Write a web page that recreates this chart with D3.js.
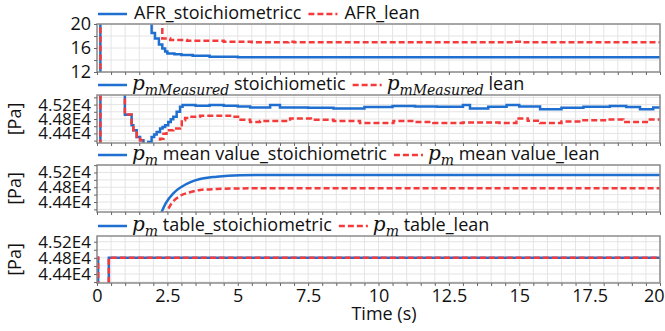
<!DOCTYPE html>
<html><head><meta charset="utf-8">
<script src="https://cdn.jsdelivr.net/npm/d3@7"></script>
<style>
body{margin:0;background:#fff}
text{font-family:'Open Sans',sans-serif}
</style>
</head><body>
<svg id="c" width="665" height="331"></svg>
<script>
// ---------------- data ----------------
const timeTicks = [0, 2.5, 5, 7.5, 10, 12.5, 15, 17.5, 20];
const timeTickLabels = ["0", "2.5", "5", "7.5", "10", "12.5", "15", "17.5", "20"];
const afrTicks = [12, 16, 20];
const paTicks = [44400, 44800, 45200];

// AFR (stepped)  [time s, AFR]
const afrStoich = [[-0.1, 0], [0.12, 25], [1.94, 18.5], [2.06, 17.6], [2.2, 16.6], [2.32, 15.9], [2.42, 15.4],
  [2.5, 15.1], [2.75, 14.95], [3.0, 14.85], [3.4, 14.7], [4.0, 14.55], [5.0, 14.45], [20, 14.45]];
const afrLean = [[-0.1, 0], [0.12, 25], [2.32, 17.6], [2.6, 17.35], [3.2, 17.2], [4.5, 17.05], [5.5, 16.95],
  [6.8, 17.05], [7.0, 16.95], [14.85, 17.05], [15.1, 16.95], [20, 16.95]];

// p_m measured [time s, Pa]
const pmMeasStoich = [[-0.1, 30000], [0.12, 47000], [0.99, 44920], [1.23, 44630], [1.29, 44490], [1.41, 44300],
  [1.53, 44210], [1.65, 44100], [1.75, 43900], [1.82, 44160], [1.94, 44300], [2.03, 44370], [2.12, 44440],
  [2.24, 44535], [2.33, 44580], [2.42, 44627], [2.53, 44720], [2.62, 44790], [2.71, 44860], [2.83, 45000],
  [2.95, 45140], [3.04, 45186], [3.5, 45170], [4.0, 45190], [4.5, 45165], [5.0, 45150], [5.44, 45120],
  [6.15, 45186], [6.5, 45120], [7.5, 45110], [8.4, 45094], [9.5, 45130], [10.5, 45158], [11.3, 45145],
  [12.07, 45140], [13.0, 45186], [13.25, 45094], [13.9, 45140], [14.55, 45186], [15.0, 45150], [15.74, 45074],
  [16.5, 45110], [17.28, 45140], [18.22, 45158], [18.8, 45130], [19.29, 45074], [19.76, 45120], [20, 45120]];
const pmMeasLean = [[-0.1, 30000], [0.12, 47000], [0.99, 44926], [1.23, 44630], [1.29, 44490], [1.41, 44300],
  [1.53, 44210], [1.65, 44100], [1.75, 43900], [2.18, 44100], [2.24, 44255], [2.36, 44394], [2.47, 44487],
  [2.71, 44534], [2.95, 44627], [3.01, 44766], [3.13, 44831], [3.3, 44859], [3.66, 44887], [4.25, 44887],
  [4.84, 44859], [5.1, 44780], [5.44, 44720], [5.79, 44747], [6.86, 44814], [7.6, 44780], [8.4, 44747],
  [9.34, 44691], [10.53, 44747], [11.3, 44720], [11.95, 44691], [13.0, 44700], [14.3, 44691], [14.9, 44814],
  [15.3, 44750], [15.74, 44691], [16.5, 44730], [17.28, 44766], [18.1, 44786], [18.7, 44719], [19.64, 44786], [20, 44786]];

// p_m mean value (smooth) [time s, Pa]
const pmMeanStoich = [[2.2, 43950], [2.44, 44365], [2.71, 44636], [3.01, 44815], [3.3, 44934], [3.66, 45024],
  [4.25, 45086], [5.08, 45125], [6.0, 45132], [20, 45132]];
const pmMeanLean = [[2.4, 44000], [2.65, 44365], [2.83, 44501], [3.01, 44590], [3.3, 44663], [3.66, 44726],
  [4.25, 44753], [5.08, 44768], [6.0, 44773], [20, 44773]];

// p_m table (stepped) [time s, Pa]
const pmTableStoich = [[-0.1, 44800], [0.04, 43000], [0.42, 44800], [20, 44800]];
const pmTableLean = [[-0.1, 44800], [0.04, 43000], [0.42, 44800], [20, 44800]];

// ---------------- drawing ----------------
const BLUE = "#1f6fd0", RED = "#f43a3a";
const svg = d3.select("#c");
const x = d3.scaleLinear().domain([0, 20]).range([97, 660]);
const fmtPa = d => (d / 1e4).toFixed(2) + "E4";

const panels = [
  {top: 24, bottom: 72, domain: [12, 20], step: 2, labels: afrTicks, fmt: d => String(d), ylabel: false,
   curve: d3.curveStepAfter, s: afrStoich, l: afrLean,
   leg: [[{t: "AFR_stoichiometricc"}], [{t: "AFR_lean"}]]},
  {top: 95, bottom: 143, domain: [44134, 45466], step: 200, labels: paTicks, fmt: fmtPa, ylabel: true,
   curve: d3.curveStepAfter, s: pmMeasStoich, l: pmMeasLean,
   leg: [[{t: "p", m: 1}, {t: "mMeasured", sub: 1}, {t: " stoichiometic"}], [{t: "p", m: 1}, {t: "mMeasured", sub: 1}, {t: " lean"}]]},
  {top: 165, bottom: 212, domain: [44129, 45403], step: 200, labels: paTicks, fmt: fmtPa, ylabel: true,
   curve: d3.curveMonotoneX, s: pmMeanStoich, l: pmMeanLean,
   leg: [[{t: "p", m: 1}, {t: "m", sub: 1}, {t: " mean value_stoichiometric"}], [{t: "p", m: 1}, {t: "m", sub: 1}, {t: " mean value_lean"}]]},
  {top: 236, bottom: 283, domain: [44177, 45341], step: 200, labels: paTicks, fmt: fmtPa, ylabel: true,
   curve: d3.curveStepAfter, s: pmTableStoich, l: pmTableLean,
   leg: [[{t: "p", m: 1}, {t: "m", sub: 1}, {t: " table_stoichiometric"}], [{t: "p", m: 1}, {t: "m", sub: 1}, {t: " table_lean"}]]}
];

const xGrid = d3.range(0, 41).map(i => i * 0.5);

panels.forEach((p, pi) => {
  const y = d3.scaleLinear().domain(p.domain).range([p.bottom, p.top]);
  const g = svg.append("g");
  const gridVals = d3.range(Math.ceil(p.domain[0] / p.step) * p.step, p.domain[1] + 1e-9, p.step);

  // grid
  g.append("g").selectAll("line.v").data(xGrid).join("line")
    .attr("x1", d => x(d)).attr("x2", d => x(d)).attr("y1", p.top).attr("y2", p.bottom)
    .attr("stroke", "#e4e4e4").attr("stroke-width", 1);
  g.append("g").selectAll("line.h").data(gridVals).join("line")
    .attr("x1", x(0)).attr("x2", x(20)).attr("y1", d => y(d)).attr("y2", d => y(d))
    .attr("stroke", "#e4e4e4").attr("stroke-width", 1);

  // lines
  const cid = "clip" + pi;
  svg.append("clipPath").attr("id", cid).append("rect")
    .attr("x", x(0)).attr("y", p.top).attr("width", x(20) - x(0)).attr("height", p.bottom - p.top);
  const line = d3.line().x(d => x(d[0])).y(d => y(d[1])).curve(p.curve);
  const lg = g.append("g").attr("clip-path", `url(#${cid})`);
  lg.append("path").attr("d", line(p.s)).attr("fill", "none").attr("stroke", BLUE).attr("stroke-width", 2.5);
  lg.append("path").attr("d", line(p.l)).attr("fill", "none").attr("stroke", RED).attr("stroke-width", 2.5)
    .attr("stroke-dasharray", "6,3");

  // frame
  g.append("rect").attr("x", x(0)).attr("y", p.top).attr("width", x(20) - x(0)).attr("height", p.bottom - p.top)
    .attr("fill", "none").attr("stroke", "#8c8c8c").attr("stroke-width", 1.5);

  // y axis
  const ya = g.append("g").attr("transform", `translate(${x(0)},0)`)
    .call(d3.axisLeft(y).tickValues(gridVals).tickSize(3).tickPadding(3)
      .tickFormat(d => p.labels.includes(d) ? p.fmt(d) : ""));
  ya.select(".domain").remove();
  ya.selectAll("line").attr("stroke", "#666");
  ya.selectAll("text").attr("font-size", p.step === 2 ? 18 : 17).attr("fill", "#111")
    .attr("font-family", "'Open Sans',sans-serif");

  // x axis
  const last = pi === panels.length - 1;
  const xa = g.append("g").attr("transform", `translate(0,${p.bottom})`)
    .call(d3.axisBottom(x).tickValues(xGrid).tickSize(3).tickPadding(3)
      .tickFormat(d => {
        const i = timeTicks.indexOf(d);
        return (last && i >= 0) ? timeTickLabels[i] : "";
      }));
  xa.select(".domain").remove();
  xa.selectAll("line").attr("stroke", "#666");
  xa.selectAll("text").attr("font-size", 18).attr("fill", "#111").attr("font-family", "'Open Sans',sans-serif");
  // keep the right-most label inside the picture
  xa.selectAll("text").filter(d => d === 20).attr("text-anchor", "end").attr("dx", 4);

  // y label
  if (p.ylabel) {
    svg.append("text").attr("transform", `translate(21,${(p.top + p.bottom) / 2}) rotate(-90)`)
      .attr("text-anchor", "middle").attr("font-size", 18).attr("fill", "#111").text("[Pa]");
  }

  // legend
  const base = p.top - 5;
  let cx = 98;
  p.leg.forEach((item, k) => {
    if (k > 0) cx += 7;
    const ls = svg.append("line").attr("x1", cx).attr("x2", cx + 29).attr("y1", base - 5).attr("y2", base - 5)
      .attr("stroke", k === 0 ? BLUE : RED).attr("stroke-width", 2.5);
    if (k === 1) ls.attr("stroke-dasharray", "6,3");
    cx += 29 + (item[0].m ? 5 : 7);
    const t = svg.append("text").attr("x", cx).attr("y", base).attr("font-size", 18).attr("fill", "#111");
    item.forEach(part => {
      const ts = t.append("tspan").text(part.t);
      if (part.m) ts.attr("font-family", "'DejaVu Serif',serif").attr("font-style", "italic").attr("font-size", 20);
      else if (part.sub) ts.attr("font-family", "'DejaVu Serif',serif").attr("font-style", "italic").attr("font-size", 14).attr("dy", 5);
      else ts.attr("dy", item.length > 1 ? -5 : 0).attr("xml:space", "preserve").style("white-space", "pre");
    });
    cx += t.node().getComputedTextLength();
  });
});

// x title
svg.append("text").attr("x", 384).attr("y", 320).attr("text-anchor", "middle")
  .attr("font-size", 18).attr("fill", "#111").text("Time (s)");
</script>
</body></html>
